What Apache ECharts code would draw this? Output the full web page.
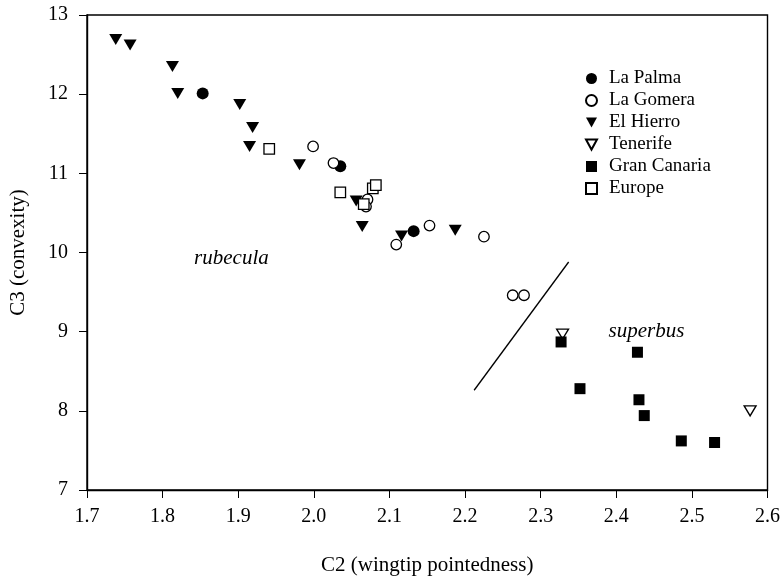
<!DOCTYPE html>
<html><head><meta charset="utf-8">
<script src="https://cdn.jsdelivr.net/npm/echarts@6/dist/echarts.min.js"></script>
<style>html,body{margin:0;padding:0;background:#fff}#c{width:783px;height:581px}</style>
</head><body><div id="c"></div>
<script>
const laPalma = [[1.853,12.01],[2.035,11.09],[2.132,10.27]];
const laGomera = [[1.999,11.34],[2.026,11.13],[2.071,10.67],[2.069,10.58],[2.109,10.10],[2.153,10.34],[2.225,10.20],[2.263,9.46],[2.278,9.46]];
const elHierro = [[1.738,12.69],[1.757,12.62],[1.813,12.35],[1.820,12.01],[1.902,11.87],[1.919,11.58],[1.915,11.34],[1.981,11.11],[2.056,10.65],[2.064,10.33],[2.116,10.21],[2.187,10.28]];
const tenerife = [[2.329,8.97],[2.577,8.00]];
const granCanaria = [[2.327,8.87],[2.428,8.74],[2.352,8.28],[2.430,8.14],[2.437,7.94],[2.486,7.62],[2.530,7.60]];
const europe = [[1.941,11.31],[2.035,10.76],[2.066,10.61],[2.078,10.81],[2.082,10.85]];
const dividerLine = [[2.212,8.26],[2.337,9.88]];
const annotations = [{name:'rubecula', value:[1.891,9.92]},{name:'superbus', value:[2.440,9.00]}];
const xTicks = {min:1.7, max:2.6, step:0.1};
const yTicks = {min:7, max:13, step:1};

const FONT = '"Liberation Serif", "Times New Roman", serif';
const downTri = 'path://M0,0 L12,0 L6,11 Z';
function sc(name, data, symbol, filled, size){
  return {name, type:'scatter', data, symbol, symbolSize:size,
    itemStyle:{color: filled ? '#000' : '#fff', borderColor:'#000', borderWidth: filled?0:1.3, opacity:1},
    emphasis:{disabled:true}, z:3};
}
const chart = echarts.init(document.getElementById('c'), null, {renderer:'canvas'});
chart.setOption({
  animation:false,
  backgroundColor:'#fff',
  textStyle:{fontFamily:FONT},
  grid:{left:87, right:14, top:15, bottom:89, show:true, borderColor:'#000', borderWidth:1.4, containLabel:false},
  legend:{
    orient:'vertical', left:580, top:64, itemWidth:11, itemHeight:11, itemGap:3,
    textStyle:{fontFamily:FONT, fontSize:19, color:'#000', padding:[0,0,0,7]},
    data:['La Palma','La Gomera','El Hierro','Tenerife','Gran Canaria','Europe'],
    selectedMode:false
  },
  xAxis:{type:'value', min:xTicks.min, max:xTicks.max, interval:xTicks.step,
    name:'C2 (wingtip pointedness)', nameLocation:'middle', nameGap:65,
    nameTextStyle:{fontFamily:FONT, fontSize:21, color:'#000'},
    axisLine:{show:true, lineStyle:{color:'#000', width:1.4}},
    axisTick:{show:true, inside:false, length:8, lineStyle:{color:'#000'}},
    axisLabel:{fontFamily:FONT, fontSize:20, color:'#000', margin:17, formatter:v=>(+v).toFixed(1)},
    splitLine:{show:false}},
  yAxis:{type:'value', min:yTicks.min, max:yTicks.max, interval:yTicks.step,
    name:'C3 (convexity)', nameLocation:'middle', nameGap:58, nameRotate:90,
    nameTextStyle:{fontFamily:FONT, fontSize:21, color:'#000'},
    axisLine:{show:true, lineStyle:{color:'#000', width:1.4}},
    axisTick:{show:true, inside:false, length:8, lineStyle:{color:'#000'}},
    axisLabel:{fontFamily:FONT, fontSize:20, color:'#000', margin:19},
    splitLine:{show:false}},
  series:[
    sc('La Palma', laPalma, 'circle', true, 12),
    sc('La Gomera', laGomera, 'circle', false, 10.5),
    sc('El Hierro', elHierro, downTri, true, [13,11]),
    sc('Tenerife', tenerife, downTri, false, [12,10]),
    sc('Gran Canaria', granCanaria, 'rect', true, 11),
    sc('Europe', europe, 'rect', false, 10.5),
    {type:'line', data:dividerLine, symbol:'none', lineStyle:{color:'#000', width:1.3}, z:2, silent:true},
    {type:'scatter', data:annotations, symbolSize:1, itemStyle:{opacity:0}, silent:true,
      label:{show:true, position:'inside', formatter:p=>p.name, fontFamily:FONT, fontStyle:'italic', fontSize:21, color:'#000', textBorderWidth:0, opacity:1}}
  ]
});
</script></body></html>
